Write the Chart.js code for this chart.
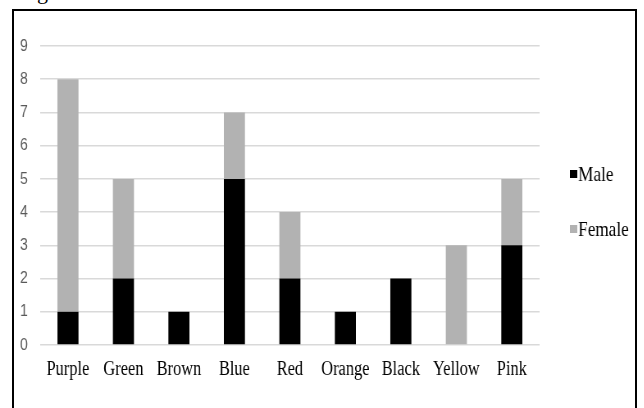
<!DOCTYPE html>
<html>
<head>
<meta charset="utf-8">
<script src="https://cdn.jsdelivr.net/npm/chart.js@4/dist/chart.umd.min.js"></script>
<style>
  html, body { margin: 0; padding: 0; background: #fff; overflow: hidden; }
  #wrap { position: relative; width: 644px; height: 408px; overflow: hidden; }
  /* the drawing is laid out wide and squeezed horizontally, giving tall narrow lettering */
  #squeeze {
    position: absolute; left: 0; top: 0; width: 785px; height: 408px;
    transform: scaleX(0.82); transform-origin: 0 0;
  }
  #chart { position: absolute; left: 0; top: 0; }
  #frame {
    position: absolute; left: 12px; top: 9px; width: 621px; height: 500px;
    border: 2px solid #000; border-bottom: none; pointer-events: none;
  }
  #caption {
    position: absolute; left: 37px; top: -19px; font: 22px "Liberation Serif", serif;
    color: #000; line-height: 22px;
  }
</style>
</head>
<body>
<div id="wrap">
  <div id="caption">g</div>
  <div id="squeeze">
    <canvas id="chart" width="785" height="408"></canvas>
  </div>
  <div id="frame"></div>
</div>
<script>
// Favourite colour counts by gender
const colours = ['Purple', 'Green', 'Brown', 'Blue', 'Red', 'Orange', 'Black', 'Yellow', 'Pink'];
const maleCounts = [1, 2, 1, 5, 2, 1, 2, 0, 3];
const femaleCounts = [7, 3, 0, 2, 2, 0, 0, 3, 2];
const yTicks = [0, 1, 2, 3, 4, 5, 6, 7, 8, 9];

const seriesNames = ['Male', 'Female'];
const seriesFill = ['#000000', '#b2b2b2'];

// Legend drawn beside the plot, one entry per dataset
const sideLegend = {
  id: 'sideLegend',
  afterDraw(chart) {
    const ctx = chart.ctx;
    ctx.save();
    ctx.font = '21px "Liberation Serif", serif';
    ctx.textBaseline = 'alphabetic';
    ctx.textAlign = 'left';
    chart.data.datasets.forEach((ds, i) => {
      const baseY = 181 + i * 55;
      ctx.fillStyle = ds.backgroundColor;
      ctx.fillRect(695, baseY - 11, 9, 8);
      ctx.fillStyle = '#000';
      ctx.fillText(ds.label, 705, baseY);
    });
    ctx.restore();
  }
};

new Chart(document.getElementById('chart'), {
  type: 'bar',
  data: {
    labels: colours,
    datasets: [
      { label: seriesNames[0], data: maleCounts, backgroundColor: seriesFill[0] },
      { label: seriesNames[1], data: femaleCounts, backgroundColor: seriesFill[1] }
    ]
  },
  options: {
    responsive: false,
    animation: false,
    devicePixelRatio: 1,
    categoryPercentage: 1,
    barPercentage: 0.38,
    layout: { padding: { left: 0, right: 127, top: 46, bottom: 0 } },
    plugins: { legend: { display: false }, tooltip: { enabled: false } },
    scales: {
      x: {
        stacked: true,
        grid: { display: false, drawTicks: false },
        border: { display: false },
        ticks: {
          color: '#000',
          font: { family: '"Liberation Serif", serif', size: 20 },
          padding: 13,
          maxRotation: 0
        },
        afterFit(scale) { scale.height = 63; }
      },
      y: {
        stacked: true,
        min: yTicks[0],
        max: yTicks[yTicks.length - 1],
        afterBuildTicks(scale) { scale.ticks = yTicks.map(v => ({ value: v })); },
        grid: { color: '#d9d9d9', lineWidth: 1.5, drawTicks: false },
        border: { display: false },
        ticks: {
          color: '#595959',
          font: { family: '"Liberation Sans", sans-serif', size: 17 },
          padding: 15
        },
        afterFit(scale) { scale.width = 49; }
      }
    }
  },
  plugins: [sideLegend]
});
</script>
</body>
</html>
